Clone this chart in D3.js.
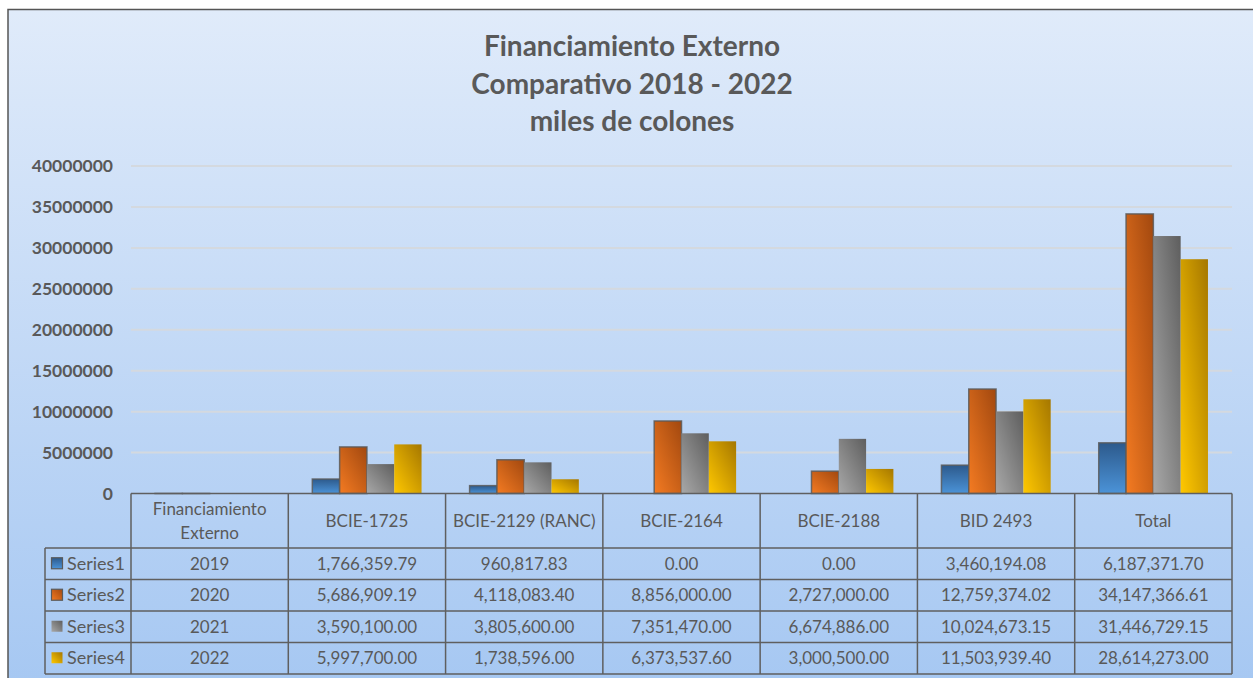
<!DOCTYPE html>
<html>
<head>
<meta charset="utf-8">
<script src="https://d3js.org/d3.v7.min.js"></script>
<style>
  body { margin: 0; background: #fff; }
  svg { display: block; font-family: Lato, "Open Sans", sans-serif; }
</style>
</head>
<body>
<svg id="chart" width="1253" height="678"></svg>
<script>
// chart data
const categories = ["Financiamiento Externo", "BCIE-1725", "BCIE-2129 (RANC)", "BCIE-2164", "BCIE-2188", "BID 2493", "Total"];
const seriesNames = ["Series1", "Series2", "Series3", "Series4"];
const series1 = [2019, 1766359.79, 960817.83, 0.00, 0.00, 3460194.08, 6187371.70];
const series2 = [2020, 5686909.19, 4118083.40, 8856000.00, 2727000.00, 12759374.02, 34147366.61];
const series3 = [2021, 3590100.00, 3805600.00, 7351470.00, 6674886.00, 10024673.15, 31446729.15];
const series4 = [2022, 5997700.00, 1738596.00, 6373537.60, 3000500.00, 11503939.40, 28614273.00];
const yTicks = [0, 5000000, 10000000, 15000000, 20000000, 25000000, 30000000, 35000000, 40000000];
const titleLines = ["Financiamiento Externo", "Comparativo 2018 - 2022", "miles de colones"];

const allSeries = [series1, series2, series3, series4];

const svg = d3.select("#chart");
const W = 1253, H = 678;
const textCol = "#595959", lineCol = "#5f5f5f";

const defs = svg.append("defs");

// background gradient
const bg = defs.append("linearGradient").attr("id", "bg")
  .attr("x1", 0).attr("y1", 0).attr("x2", 0).attr("y2", 1);
bg.append("stop").attr("offset", 0).attr("stop-color", "#e0ebfa");
bg.append("stop").attr("offset", 1).attr("stop-color", "#a5c7f2");

// bar gradients: blue vertical, others diagonal light->dark
const grads = [
  { id: "g1", dir: [0, 0, 0, 1], stops: ["#2d5a8c", "#4b93d8"] },
  { id: "g2", dir: [0, 1, 1, 0], stops: ["#f47b22", "#a2480f"] },
  { id: "g3", dir: [0, 1, 1, 0], stops: ["#a8a8a8", "#5e5e5e"] },
  { id: "g4", dir: [0, 1, 1, 0], stops: ["#ffc800", "#a57700"] }
];
grads.forEach(g => {
  const lg = defs.append("linearGradient").attr("id", g.id)
    .attr("x1", g.dir[0]).attr("y1", g.dir[1]).attr("x2", g.dir[2]).attr("y2", g.dir[3]);
  lg.append("stop").attr("offset", 0).attr("stop-color", g.stops[0]);
  lg.append("stop").attr("offset", 1).attr("stop-color", g.stops[1]);
});
const outlined = [true, true, false, false];

// chart area
svg.append("rect").attr("x", 8).attr("y", 9.5).attr("width", W + 10).attr("height", H + 10)
  .attr("fill", "url(#bg)").attr("stroke", "#555").attr("stroke-width", 1.5);

// title
svg.append("g").selectAll("text").data(titleLines).join("text")
  .attr("x", 632).attr("y", (d, i) => 56 + i * 37.5)
  .attr("text-anchor", "middle")
  .attr("font-size", 28).attr("font-weight", "bold").attr("fill", textCol)
  .text(d => d);

// scales
const x = d3.scaleBand().domain(categories).range([131, 1232]);
const xs = d3.scaleBand().domain(seriesNames).range([0, x.bandwidth()]).paddingInner(0).paddingOuter(0.88);
const y = d3.scaleLinear().domain([0, 40000000]).range([493.5, 166]);

// gridlines
svg.append("g").selectAll("line").data(yTicks.slice(1)).join("line")
  .attr("x1", 131).attr("x2", 1232)
  .attr("y1", d => y(d)).attr("y2", d => y(d))
  .attr("stroke", "#d4d9df").attr("stroke-width", 2);

// y axis labels
const yAxis = svg.append("g").attr("transform", "translate(131,0)")
  .call(d3.axisLeft(y).tickValues(yTicks).tickFormat(d3.format("d")).tickSize(0).tickPadding(18));
yAxis.select(".domain").remove();
yAxis.selectAll("text").attr("font-family", "Lato, sans-serif").attr("font-size", 17.5)
  .attr("font-weight", "bold").attr("fill", textCol);

// bars
const bars = svg.append("g");
allSeries.forEach((vals, si) => {
  bars.selectAll(".b" + si).data(vals.filter(d => d > 0).length ? vals : []).join("rect")
    .attr("class", "b" + si)
    .attr("x", (d, i) => x(categories[i]) + xs(seriesNames[si]))
    .attr("y", d => y(d))
    .attr("width", xs.bandwidth())
    .attr("height", d => y(0) - y(d))
    .attr("fill", `url(#g${si + 1})`)
    .attr("stroke", d => outlined[si] && d > 0 ? "#5a5a5a" : "none")
    .attr("stroke-opacity", 0.85)
    .attr("stroke-width", 1.5);
});

// data table
const headTop = y(0), headBot = 548, rowH = 31.5;
const rowY = i => headBot + i * rowH;
const tbl = svg.append("g").attr("stroke", lineCol).attr("stroke-width", 1.5);
const colEdges = categories.map(c => x(c)).concat([x.range()[1]]);
// vertical lines
colEdges.forEach(cx => {
  tbl.append("line").attr("x1", cx).attr("x2", cx).attr("y1", headTop).attr("y2", rowY(4));
});
tbl.append("line").attr("x1", 45).attr("x2", 45).attr("y1", rowY(0)).attr("y2", rowY(4));
// horizontal lines
tbl.append("line").attr("x1", x.range()[0]).attr("x2", x.range()[1]).attr("y1", headTop).attr("y2", headTop);
d3.range(5).forEach(i => {
  tbl.append("line").attr("x1", 45).attr("x2", x.range()[1]).attr("y1", rowY(i)).attr("y2", rowY(i));
});

// header labels
const head = svg.append("g").attr("font-size", 17).attr("fill", textCol).attr("text-anchor", "middle");
categories.forEach((c, i) => {
  const cx = x(c) + x.bandwidth() / 2;
  if (i === 0) {
    const words = c.split(" ");
    head.append("text").attr("x", cx).attr("y", 515).text(words[0]);
    head.append("text").attr("x", cx).attr("y", 539).text(words[1]);
  } else {
    head.append("text").attr("x", cx).attr("y", 527).text(c);
  }
});

// rows
const fmtNum = d3.format(",.2f");
allSeries.forEach((vals, si) => {
  const cy = rowY(si) + rowH / 2;
  svg.append("rect").attr("x", 51.5).attr("y", cy - 6).attr("width", 11).attr("height", 11)
    .attr("fill", `url(#g${si + 1})`)
    .attr("stroke", outlined[si] ? "#5a5a5a" : "none").attr("stroke-width", 1.2);
  svg.append("text").attr("x", 67).attr("y", cy + 6).attr("font-size", 18).attr("fill", textCol)
    .text(seriesNames[si]);
  svg.append("g").selectAll("text").data(vals).join("text")
    .attr("x", (d, i) => x(categories[i]) + x.bandwidth() / 2)
    .attr("y", cy + 6)
    .attr("text-anchor", "middle").attr("font-size", 17).attr("fill", textCol)
    .text((d, i) => i === 0 ? d3.format("d")(d) : fmtNum(d));
});
</script>
</body>
</html>
